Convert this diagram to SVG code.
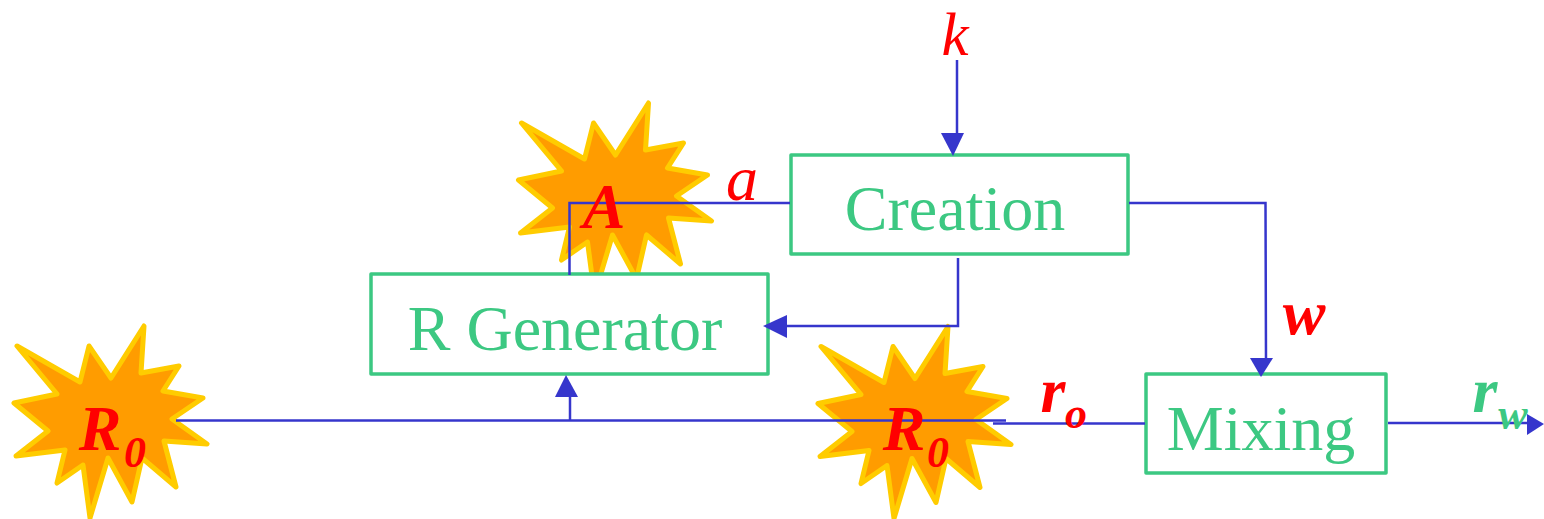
<svg xmlns="http://www.w3.org/2000/svg" width="1544" height="519" viewBox="0 0 1544 519">
<style>
.box{fill:#fff;stroke:#3cc882;stroke-width:3.500;stroke-linejoin:round}
.star{fill:#ff9c00;stroke:#ffcc00;stroke-width:5;stroke-linejoin:round}
.lbl{font-family:"Liberation Serif",serif;fill:#3cc882;font-size:64px;text-anchor:middle}
.it{font-family:"Liberation Serif",serif;font-style:italic;fill:#f00;text-anchor:middle;font-size:64px}
.b{font-weight:bold}
.sub{font-size:44px}
.k{font-size:61px}
.g{fill:#3cc882}
.c{fill:none;stroke:#3636cc;stroke-width:2.500}
.h{fill:#3636cc}
</style>
<defs>
<polygon id="burst" points="17,346 80,382 89,346 111,378 144,326 141,373 179,366 163,391 203,398 172,419 207,444 164,441 176,487 142,458 132,502 108,458 90,518 83,465 57,483 65,450 16,456 48,431 14,403 57,394"/>
</defs>
<g id="star-a"><use href="#burst" class="star" transform="translate(504.500,-223)"/></g>
<g id="star-r0-left"><use href="#burst" class="star"/></g>
<g id="star-r0-mid"><use href="#burst" class="star" transform="translate(804,0.500)"/></g>
<g id="node-creation"><rect class="box" x="791" y="155" width="337" height="99"/><text class="lbl" x="955" y="230">Creation</text></g>
<g id="node-rgen"><rect class="box" x="371" y="274" width="397" height="100"/><text class="lbl" x="565" y="350">R Generator</text></g>
<g id="node-mixing"><rect class="box" x="1146" y="374" width="240" height="99"/><text class="lbl" x="1261" y="450">Mixing</text></g>
<g id="connectors">
<path class="c" d="M957 60V136"/><polygon class="h" points="941,133 964,133 953,156"/>
<path class="c" d="M790 203H569.500V275"/>
<path class="c" d="M1129 203H1265.500L1266 360"/><polygon class="h" points="1250,358 1273,358 1261,377"/>
<path class="c" d="M958 258V326H785"/><polygon class="h" points="787,315 787,338 763,326"/>
<path class="c" d="M176 420.500H1006"/><path class="c" d="M993 423.500H1145"/>
<path class="c" d="M570 420V396"/><polygon class="h" points="555,397 578,397 566,375"/>
<path class="c" d="M1388 423H1530"/><polygon class="h" points="1527,414 1527,435 1544,424"/>
</g>
<g id="labels">
<text class="it k" x="955" y="55">k</text>
<text class="it" x="742" y="200">a</text>
<text class="it b" x="604" y="228">A</text>
<text class="it b" x="1304" y="334">w</text>
<text class="it b" x="100" y="450">R</text>
<text class="it b sub" x="135" y="467">0</text>
<text class="it b" x="904" y="450">R</text>
<text class="it b sub" x="938" y="467">0</text>
<text class="it b" x="1053" y="412">r</text>
<text class="it b sub" x="1076" y="428">o</text>
<text class="it b g" x="1485" y="412">r</text>
<text class="it b g sub" x="1513" y="429">w</text>
</g>
</svg>
